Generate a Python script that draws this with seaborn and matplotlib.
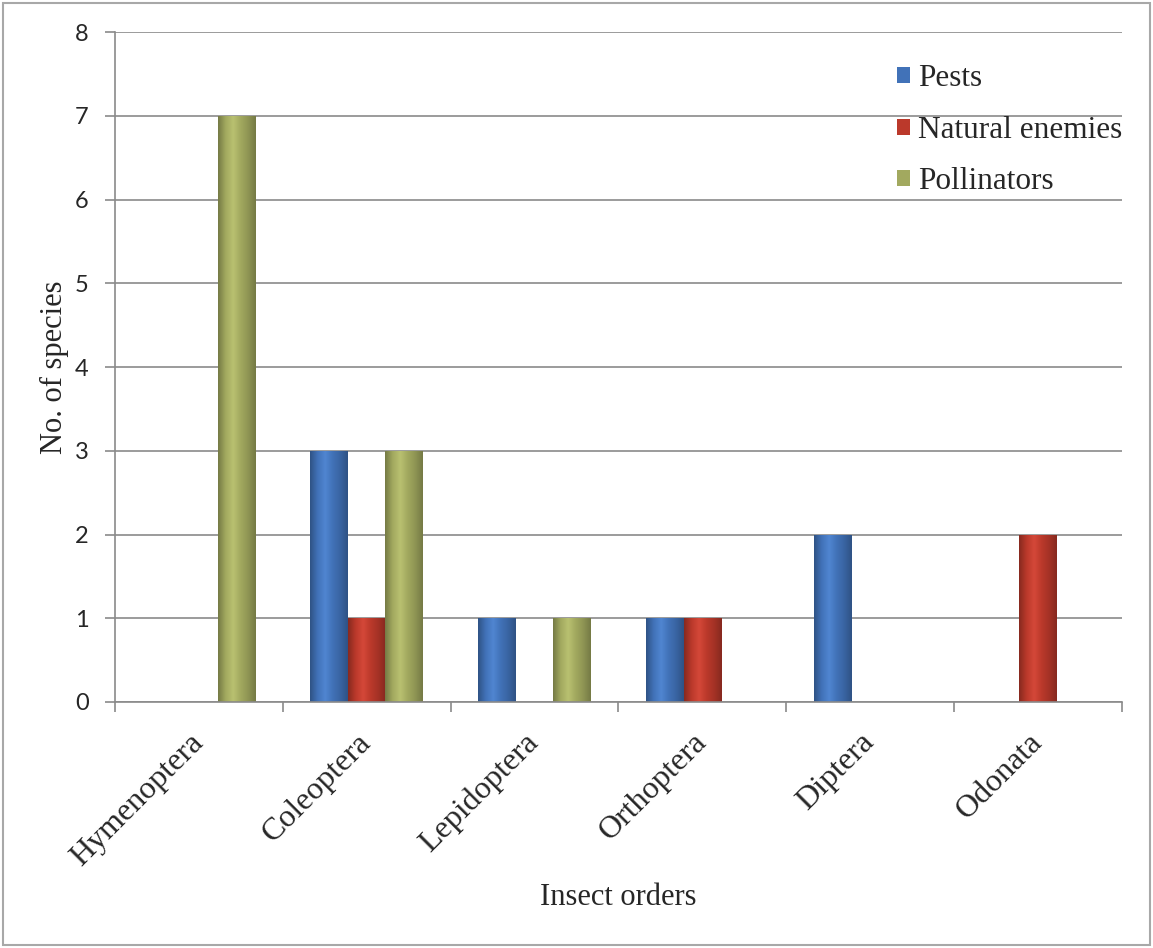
import numpy as np
import pandas as pd
import seaborn as sns
import matplotlib
matplotlib.use("Agg")
import matplotlib.pyplot as plt
from matplotlib.colors import LinearSegmentedColormap, to_rgb
from matplotlib.patches import Rectangle

# Species counts per insect order and functional group
orders = ["Hymenoptera", "Coleoptera", "Lepidoptera", "Orthoptera", "Diptera", "Odonata"]
groups = ["Pests", "Natural enemies", "Pollinators"]
pests = [0, 3, 1, 1, 2, 0]
natural_enemies = [0, 1, 0, 1, 0, 2]
pollinators = [7, 3, 1, 0, 0, 0]
y_ticks = [0, 1, 2, 3, 4, 5, 6, 7, 8]

palette = {"Pests": "#4172b8", "Natural enemies": "#bb392b", "Pollinators": "#a2a95f"}

df = pd.DataFrame({
    "Order": orders * 3,
    "Group": [g for g in groups for _ in orders],
    "Species": pests + natural_enemies + pollinators,
})

sns.set_theme(style="white")
plt.rcParams["font.family"] = ["Liberation Serif", "DejaVu Serif"]

fig = plt.figure(figsize=(11.53, 9.48), dpi=100)
ax = fig.add_axes([0.0997, 0.2595, 0.8733, 0.7065])

sns.barplot(data=df, x="Order", y="Species", hue="Group", order=orders,
            hue_order=groups, palette=palette, width=0.67, saturation=1,
            linewidth=0, ax=ax)

# Shaded cylinder-like fill for each bar
grad = np.linspace(0, 1, 128).reshape(1, -1)
for bar in list(ax.patches):
    h = bar.get_height()
    if not h or np.isnan(h):
        continue
    x0, w = bar.get_x(), bar.get_width()
    base = np.array(to_rgb(bar.get_facecolor()))
    dark = base * 0.72
    light = np.clip(base * 1.08 + 0.04, 0, 1)
    cmap = LinearSegmentedColormap.from_list("shade", [dark, base, light, base, base * 0.88, dark])
    im = ax.imshow(grad, cmap=cmap, extent=[x0, x0 + w, 0, h], aspect="auto",
                   interpolation="bicubic", zorder=bar.get_zorder() + 0.1)
    im.set_clip_path(bar)

ax.set_xlim(-0.5, len(orders) - 0.5)
ax.set_ylim(0, 8)
ax.set_yticks(y_ticks)
ax.set_yticklabels([str(t) for t in y_ticks], family=["Lato", "DejaVu Sans"], fontsize=17)

grid_col = "#8a8a8a"
ax.yaxis.grid(True, color=grid_col, linewidth=1.2)
ax.xaxis.grid(False)
ax.set_axisbelow(True)
for side in ["top", "right"]:
    ax.spines[side].set_visible(False)
for side in ["left", "bottom"]:
    ax.spines[side].set_color(grid_col)
    ax.spines[side].set_linewidth(1.2)

ax.tick_params(axis="y", which="major", direction="out", length=7, width=1.2,
               color=grid_col, pad=12, left=True)
ax.set_xticks(range(len(orders)))
ax.set_xticks(np.arange(-0.5, len(orders), 1.0), minor=True)
ax.tick_params(axis="x", which="major", length=0, pad=26)
ax.tick_params(axis="x", which="minor", direction="out", length=7, width=1.2,
               color=grid_col, bottom=True)
for lab in ax.get_xticklabels():
    lab.set_rotation(45)
    lab.set_ha("right")
    lab.set_va("center")
    lab.set_rotation_mode("anchor")
    lab.set_fontsize(23)

ax.set_xlabel("Insect orders", fontsize=22)
ax.set_ylabel("No. of species", fontsize=22)
ax.xaxis.label.set_va("center")
ax.yaxis.label.set_va("center")
ax.xaxis.set_label_coords(0.5, -0.292)
ax.yaxis.set_label_coords(-0.0596, 0.5)

handles, labels = ax.get_legend_handles_labels()
ax.legend(handles, labels, frameon=False, loc="upper right",
          bbox_to_anchor=(1.0, 0.952), borderaxespad=0, borderpad=0,
          fontsize=22.5, handlelength=0.42, handleheight=0.42, handletextpad=0.25,
          labelspacing=0.72)

fig.patches.append(Rectangle((0.003, 0.003), 0.994, 0.994, transform=fig.transFigure,
                             fill=False, edgecolor="#a8a8a8", linewidth=1.5))

fig.savefig("out.png", dpi=100)
